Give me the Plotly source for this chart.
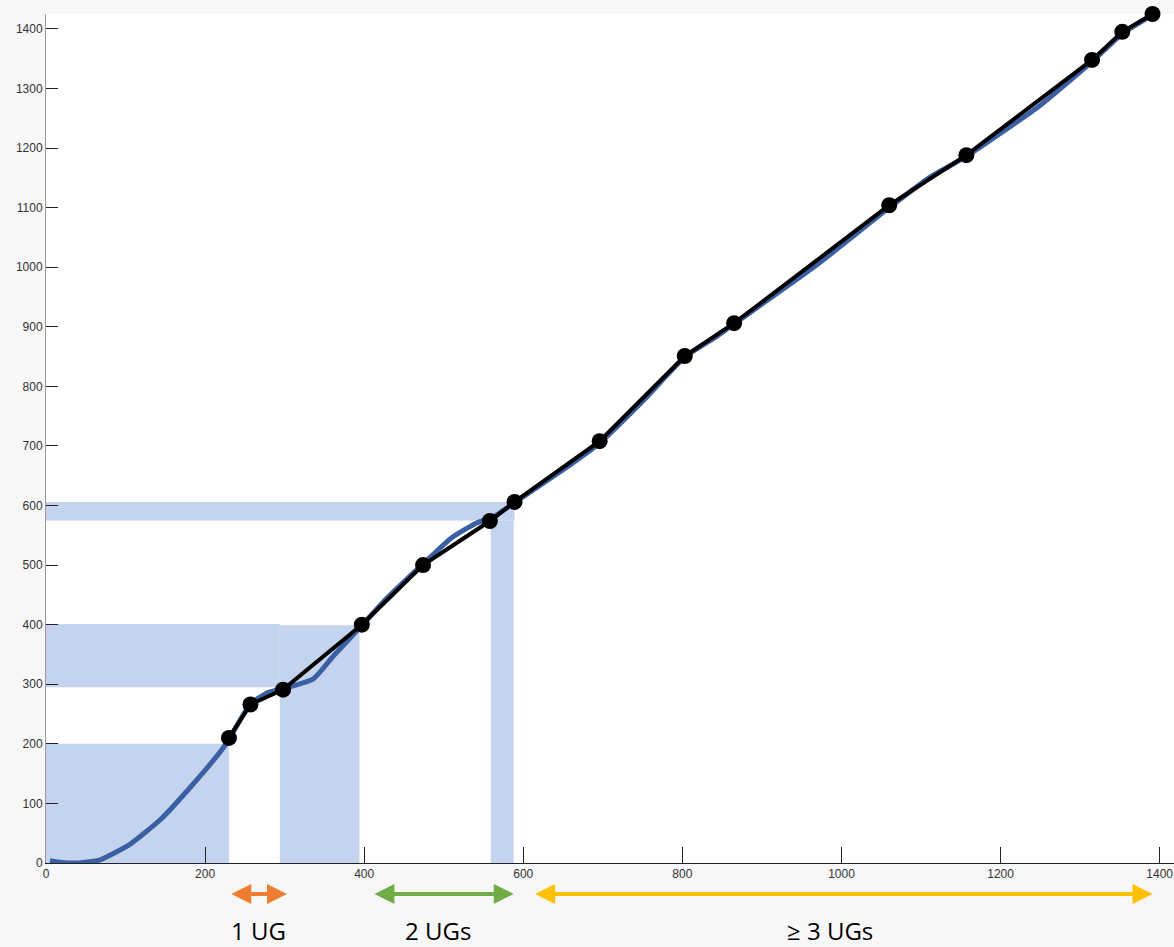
import plotly.graph_objects as go

# ---- data ----
curve_x = [5, 20, 38, 67, 105, 144, 182, 221, 230, 257, 279, 297, 336, 361, 398, 423, 474, 510, 540, 565, 589,
           650, 696, 750, 803, 841, 865, 970, 1060, 1110, 1157, 1250, 1315, 1353, 1391]
curve_y = [4, 1, 0, 5, 31, 73, 128, 190, 208, 267, 286, 292, 309, 347, 400, 437, 502, 546, 570, 583, 605,
           660, 705, 775, 849, 882, 905, 1005, 1100, 1150, 1186, 1272, 1345, 1392, 1423]

pts_x = [230, 257, 298, 397, 474, 558, 589, 696, 803, 865, 1060, 1157, 1315, 1353, 1391]
pts_y = [210, 266, 291, 400, 500, 574, 606, 708, 851, 906, 1104, 1188, 1348, 1395, 1425]

# shaded regions: (x0, x1, y0, y1)
rect_x0 = [0, 0, 294, 0, 559]
rect_x1 = [230, 294, 394, 589, 588]
rect_y0 = [0, 295, 0, 575, 0]
rect_y1 = [200, 401, 399, 606, 575]

# range arrows below the axis
arrow_x0 = [231, 411, 613]
arrow_x1 = [303, 588, 1391]
arrow_colors = ["#ed7d31", "#70ad47", "#ffc000"]
arrow_labels = ["1 UG", "2 UGs", "\u2265 3 UGs"]
label_x = [267, 493, 985]

x_ticks = [0, 200, 400, 600, 800, 1000, 1200, 1400]
y_ticks = [0, 100, 200, 300, 400, 500, 600, 700, 800, 900, 1000, 1100, 1200, 1300, 1400]

fig = go.Figure()

for a, b, c, d in zip(rect_x0, rect_x1, rect_y0, rect_y1):
    fig.add_shape(type="rect", xref="x", yref="y", x0=a, x1=b, y0=c, y1=d,
                  fillcolor="#c5d4ee", line=dict(width=0), layer="below")

fig.add_trace(go.Scatter(x=curve_x, y=curve_y, mode="lines",
                         line=dict(color="#3a5fa3", width=5, shape="spline", smoothing=0.5),
                         hoverinfo="skip", showlegend=False))
fig.add_trace(go.Scatter(x=pts_x, y=pts_y, mode="lines+markers",
                         line=dict(color="black", width=4),
                         marker=dict(color="black", size=16),
                         cliponaxis=False, showlegend=False))

for a, b, col in zip(arrow_x0, arrow_x1, arrow_colors):
    fig.add_annotation(x=b, y=-0.0365, xref="x", yref="paper",
                       ax=a, ay=0, axref="x", ayref="pixel",
                       text="", showarrow=True, arrowhead=2, arrowside="end+start",
                       arrowsize=1.0, arrowwidth=4, arrowcolor=col)

for t, lx in zip(arrow_labels, label_x):
    fig.add_annotation(x=lx, y=-0.079, xref="x", yref="paper", text=t, showarrow=False,
                       font=dict(family="Open Sans, Noto Sans, sans-serif", size=24, color="black"),
                       xanchor="center", yanchor="middle")

fig.update_xaxes(range=[0, 1418], tickvals=x_ticks, ticks="inside", ticklen=16, tickcolor="#222",
                 showline=True, linecolor="#222", linewidth=1, showgrid=False, zeroline=False,
                 tickfont=dict(family="Liberation Sans Narrow, Liberation Sans, Arial, sans-serif", size=12, color="#333"))
fig.update_yaxes(range=[0, 1425], tickvals=y_ticks, ticks="inside", ticklen=12, tickcolor="#222",
                 showline=True, linecolor="#999", linewidth=1, showgrid=False, zeroline=False,
                 tickfont=dict(family="Liberation Sans Narrow, Liberation Sans, Arial, sans-serif", size=12, color="#333"))

fig.update_layout(width=1174, height=947, margin=dict(l=46, r=0, t=14, b=84),
                  paper_bgcolor="#f7f7f7", plot_bgcolor="white", showlegend=False)

fig.write_html("out.html", config={"displayModeBar": False},
               post_script="document.body.style.margin='0';document.body.style.overflow='hidden';")
